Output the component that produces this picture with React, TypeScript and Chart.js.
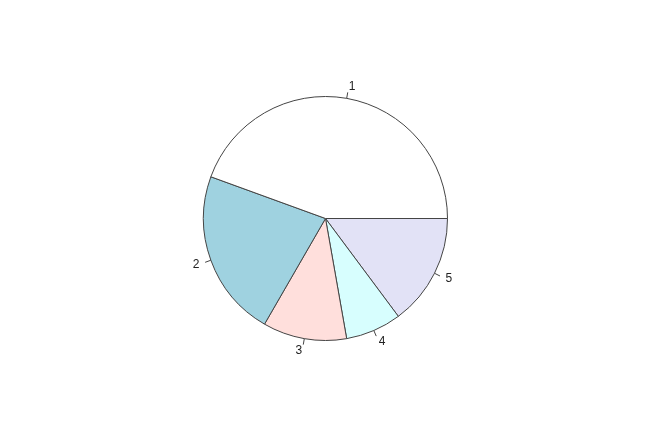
import { useEffect, useRef } from 'react';
import Chart from 'chart.js/auto';

// slices in R order (counter-clockwise from 3 o'clock)
const sliceLabels = ['1', '2', '3', '4', '5'];
const sliceValues = [12, 6, 3, 2, 4];
const sliceColors = ['#FFFFFF', '#9FD2E0', '#FFDFDC', '#D7FEFE', '#E2E2F6'];

const pieLabels = {
  id: 'pieLabels',
  afterDatasetsDraw(chart: any) {
    const ctx = chart.ctx;
    const meta = chart.getDatasetMeta(0);
    const labels = chart.data.labels as string[];
    ctx.save();
    ctx.strokeStyle = '#444';
    ctx.lineWidth = 1;
    ctx.fillStyle = '#222';
    ctx.font = '12px "Liberation Sans", Arial, sans-serif';
    ctx.textBaseline = 'middle';
    meta.data.forEach((arc: any, i: number) => {
      const { x, y, startAngle, endAngle, outerRadius } = arc.getProps(
        ['x', 'y', 'startAngle', 'endAngle', 'outerRadius'],
        true
      );
      const mid = (startAngle + endAngle) / 2;
      const c = Math.cos(mid);
      const s = Math.sin(mid);
      ctx.beginPath();
      ctx.moveTo(x + c * outerRadius, y + s * outerRadius);
      ctx.lineTo(x + c * outerRadius * 1.05, y + s * outerRadius * 1.05);
      ctx.stroke();
      ctx.textAlign = c >= 0 ? 'left' : 'right';
      ctx.fillText(labels[i], x + c * outerRadius * 1.1, y + s * outerRadius * 1.1);
    });
    ctx.restore();
  },
};

export default function App() {
  const canvasRef = useRef<HTMLCanvasElement>(null);

  useEffect(() => {
    const canvas = canvasRef.current;
    if (!canvas) return;
    // Chart.js draws clockwise, R draws counter-clockwise: reverse the order
    const chart = new Chart(canvas, {
      type: 'pie',
      data: {
        labels: [...sliceLabels].reverse(),
        datasets: [
          {
            data: [...sliceValues].reverse(),
            backgroundColor: [...sliceColors].reverse(),
            borderColor: '#444',
            borderWidth: 1,
            borderAlign: 'center',
          },
        ],
      },
      options: {
        responsive: true,
        maintainAspectRatio: false,
        animation: false,
        rotation: 90,
        layout: { padding: { left: 203, right: 206, top: 96, bottom: 103 } },
        plugins: {
          legend: { display: false },
          tooltip: { enabled: false },
        },
      },
      plugins: [pieLabels],
    });
    return () => chart.destroy();
  }, []);

  return (
    <div style={{ position: 'fixed', left: 0, top: 0, width: 654, height: 444, background: '#fff' }}>
      <canvas ref={canvasRef} />
    </div>
  );
}
